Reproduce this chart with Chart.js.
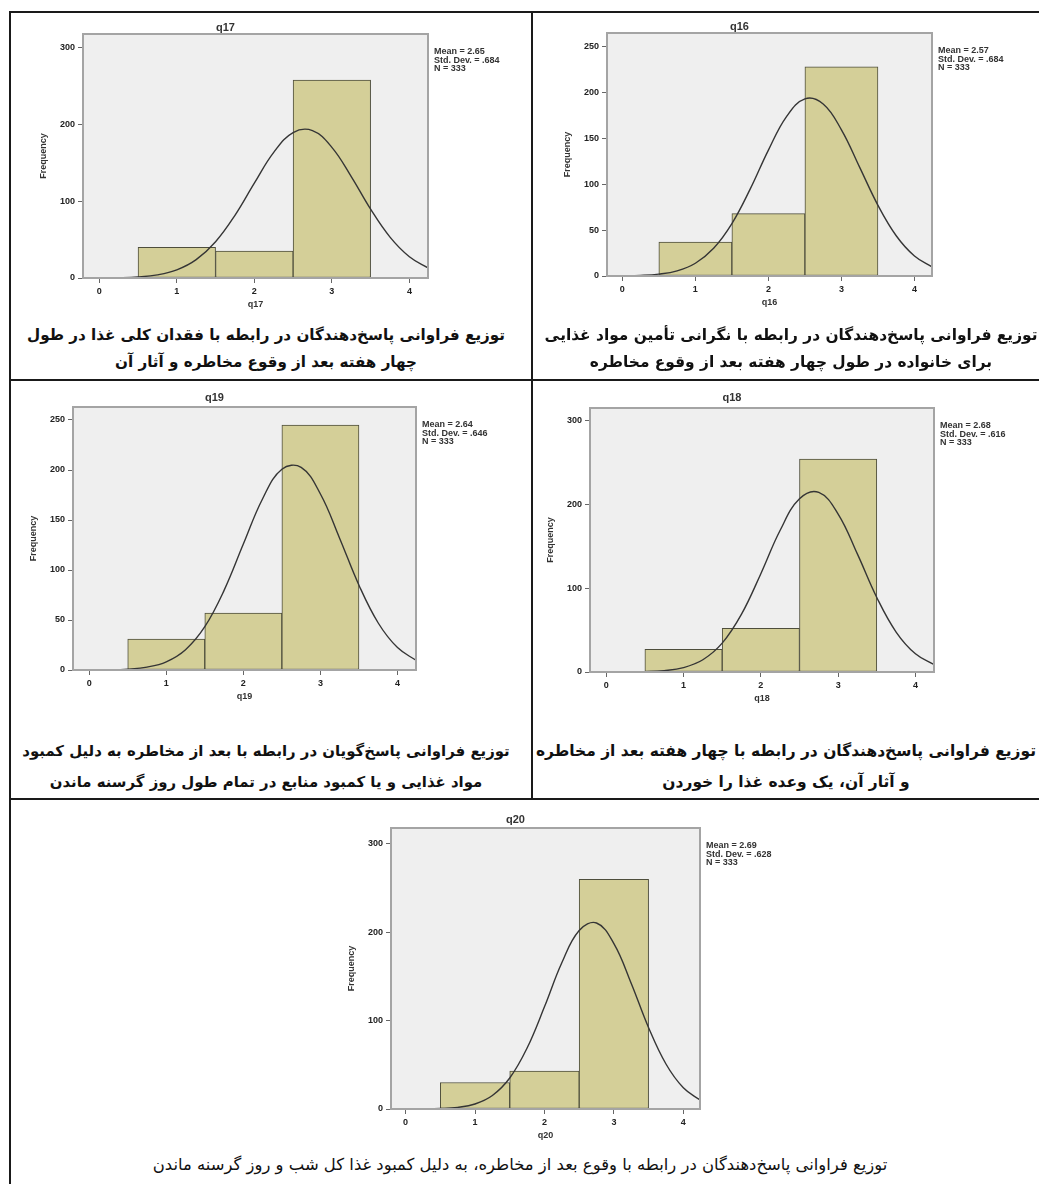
<!DOCTYPE html>
<html lang="fa">
<head>
<meta charset="utf-8">
<title>q16 - q20</title>
<script src="https://cdn.jsdelivr.net/npm/chart.js@4.4.1/dist/chart.umd.min.js"></script>
<style>
  html, body { margin: 0; padding: 0; background: #fff; overflow: hidden; }
  #page { position: relative; width: 1039px; height: 1184px; overflow: hidden; }
  .rule { position: absolute; background: #1a1a1a; }
  canvas { position: absolute; }
  .cap { position: absolute; white-space: nowrap; direction: rtl; font-family: "DejaVu Sans", sans-serif; color: #111; transform: translate(-50%, -50%); }
</style>
</head>
<body>
<div id="page"></div>
<script>
// bins of the histograms (1, 2, 3) and axis ticks
const binCenters = [1, 2, 3];
const xTicks = [0, 1, 2, 3, 4];
const ticksBy100 = [0, 100, 200, 300];
const ticksBy50 = [0, 50, 100, 150, 200, 250];

// frequencies
const q17Counts = [40, 35, 258];
const q16Counts = [37, 68, 228];
const q19Counts = [31, 57, 245];
const q18Counts = [27, 52, 254];
const q20Counts = [30, 43, 260];

// normal curve, read at every quarter step
const curveX = [-0.25, 0, 0.25, 0.5, 0.75, 1, 1.25, 1.5, 1.75, 2, 2.25, 2.5, 2.75, 3, 3.25, 3.5, 3.75, 4, 4.25];
const q17Curve = [0, 0.1, 0.4, 1.4, 4.1, 10.6, 23.9, 47.3, 81.7, 123.6, 163.7, 189.6, 192.1, 170.3, 132.2, 89.7, 53.3, 27.7, 12.6];
const q16Curve = [0, 0.2, 0.6, 2.0, 5.6, 13.9, 30.2, 57.1, 94.7, 137.3, 174.1, 193.2, 187.6, 159.4, 118.5, 77.1, 43.9, 21.8, 9.5];
const q19Curve = [0, 0.1, 0.2, 0.9, 2.9, 8.2, 20.3, 43.3, 79.6, 125.9, 171.3, 200.8, 202.6, 176.0, 131.6, 84.8, 47.0, 22.4, 9.2];
const q18Curve = [0, 0, 0.1, 0.4, 1.6, 5.2, 14.6, 34.4, 69.0, 117.3, 169.1, 206.7, 214.3, 188.5, 140.6, 88.9, 47.7, 21.7, 8.4];
const q20Curve = [0, 0, 0.1, 0.5, 1.8, 5.7, 15.3, 35.1, 69.0, 115.6, 165.5, 202.0, 210.5, 187.2, 142.1, 92.0, 50.9, 24.0, 9.7];

// SPSS legend text
const q17Stats = ['Mean = 2.65', 'Std. Dev. = .684', 'N = 333'];
const q16Stats = ['Mean = 2.57', 'Std. Dev. = .684', 'N = 333'];
const q19Stats = ['Mean = 2.64', 'Std. Dev. = .646', 'N = 333'];
const q18Stats = ['Mean = 2.68', 'Std. Dev. = .616', 'N = 333'];
const q20Stats = ['Mean = 2.69', 'Std. Dev. = .628', 'N = 333'];

// captions (each line as in the table)
const q17Caption = ['توزیع فراوانی پاسخ\u200cدهندگان در رابطه با فقدان کلی غذا در طول', 'چهار هفته بعد از وقوع مخاطره و آثار آن'];
const q16Caption = ['توزیع فراوانی پاسخ\u200cدهندگان در رابطه با نگرانی تأمین مواد غذایی', 'برای خانواده در طول چهار هفته بعد از وقوع مخاطره'];
const q19Caption = ['توزیع فراوانی پاسخ\u200cگویان در رابطه با بعد از مخاطره به دلیل کمبود', 'مواد غذایی و یا کمبود منابع در تمام طول روز گرسنه ماندن'];
const q18Caption = ['توزیع فراوانی پاسخ\u200cدهندگان در رابطه با چهار هفته بعد از مخاطره', 'و آثار آن، یک وعده غذا را خوردن'];
const q20Caption = ['توزیع فراوانی پاسخ\u200cدهندگان در رابطه با وقوع بعد از مخاطره، به دلیل کمبود غذا کل شب و روز گرسنه ماندن'];

const page = document.getElementById('page');

// table lines: left, top, width, height
const rules = [
  [10, 11, 1029, 2],
  [9, 11, 2, 1173],
  [10, 379, 1029, 2],
  [10, 798, 1029, 2],
  [531, 11, 2, 788]
];
rules.forEach(r => {
  const d = document.createElement('div');
  d.className = 'rule';
  d.style.left = r[0] + 'px'; d.style.top = r[1] + 'px';
  d.style.width = r[2] + 'px'; d.style.height = r[3] + 'px';
  page.appendChild(d);
});

// grey plot background, frame and the Mean/SD/N block
const spssFrame = {
  id: 'spssFrame',
  beforeDraw(chart) {
    const { ctx, chartArea: a } = chart;
    ctx.save();
    ctx.fillStyle = '#efefef';
    ctx.fillRect(a.left, a.top, a.width, a.height);
    ctx.restore();
  },
  afterDraw(chart, args, opts) {
    const { ctx, chartArea: a } = chart;
    ctx.save();
    ctx.strokeStyle = '#a4a4a4';
    ctx.lineWidth = 2;
    ctx.strokeRect(a.left, a.top, a.width, a.height);
    ctx.fillStyle = '#333';
    ctx.font = 'bold 9px "Liberation Sans"';
    ctx.textBaseline = 'middle';
    opts.lines.forEach((s, i) => ctx.fillText(s, a.right + 6, a.top + 18 + i * 8.5));
    ctx.restore();
  }
};

const tickFont = { family: 'Liberation Sans', size: 9, weight: 'bold' };
const padL = 60, padT = 22, padR = 134, padB = 38;

function drawPanel(p) {
  const [L, T, R, B] = p.box;
  const w = R - L + padL + padR, h = B - T + padT + padB;
  const cv = document.createElement('canvas');
  cv.width = w; cv.height = h;
  cv.style.left = (L - padL) + 'px'; cv.style.top = (T - padT) + 'px';
  cv.style.width = w + 'px'; cv.style.height = h + 'px';
  page.appendChild(cv);

  new Chart(cv.getContext('2d'), {
    type: 'bar',
    data: {
      datasets: [{
        type: 'line',
        data: curveX.map((x, i) => ({ x: x, y: p.curve[i] })),
        borderColor: '#353535',
        borderWidth: 1.4,
        pointRadius: 0,
        fill: false,
        tension: 0.4,
        order: 0
      }, {
        type: 'bar',
        data: binCenters.map((x, i) => ({ x: x, y: p.counts[i] })),
        backgroundColor: '#d4cf98',
        borderColor: '#4e4e3c',
        borderWidth: 1,
        borderSkipped: false,
        barPercentage: 1,
        categoryPercentage: 1,
        grouped: false,
        order: 1
      }]
    },
    options: {
      responsive: false,
      animation: false,
      layout: { padding: { left: 0, top: 0, right: padR, bottom: 0 } },
      plugins: {
        legend: { display: false },
        tooltip: { enabled: false },
        title: {
          display: true,
          text: p.name,
          color: '#333',
          font: { family: 'Liberation Sans', size: 11, weight: 'bold', lineHeight: 1 },
          padding: { top: 16.5 - p.titleGap, bottom: p.titleGap - 5.5 }
        },
        spssFrame: { lines: p.stats }
      },
      scales: {
        x: {
          type: 'linear',
          min: -0.21,
          max: 4.24,
          offset: false,
          afterBuildTicks: s => { s.ticks = xTicks.map(v => ({ value: v })); },
          afterFit: s => { s.height = padB; },
          border: { display: false },
          grid: { display: true, offset: false, drawOnChartArea: false, tickLength: 5, color: '#666' },
          ticks: { color: '#222', font: tickFont, padding: 3, maxRotation: 0 },
          title: { display: true, text: p.name, color: '#333', font: tickFont, padding: { top: 0, bottom: 5.6 } }
        },
        y: {
          min: 0,
          max: p.yMax,
          afterBuildTicks: s => { s.ticks = p.yTicks.map(v => ({ value: v })); },
          afterFit: s => { s.width = padL; },
          border: { display: false },
          grid: { display: true, drawOnChartArea: false, tickLength: 5, color: '#666' },
          ticks: { color: '#222', font: tickFont, padding: 3 },
          title: { display: true, text: 'Frequency', color: '#333', font: tickFont, padding: { top: 15.6, bottom: 0 } }
        }
      }
    },
    plugins: [spssFrame]
  });
}

// plot frame of each panel: left, top, right, bottom
const panels = [
  { name: 'q17', counts: q17Counts, curve: q17Curve, stats: q17Stats, yTicks: ticksBy100, yMax: 318, box: [83, 34, 428, 278], titleGap: 6 },
  { name: 'q16', counts: q16Counts, curve: q16Curve, stats: q16Stats, yTicks: ticksBy50, yMax: 265, box: [607, 33, 932, 276], titleGap: 6 },
  { name: 'q19', counts: q19Counts, curve: q19Curve, stats: q19Stats, yTicks: ticksBy50, yMax: 263, box: [73, 407, 416, 670], titleGap: 9 },
  { name: 'q18', counts: q18Counts, curve: q18Curve, stats: q18Stats, yTicks: ticksBy100, yMax: 315, box: [590, 408, 934, 672], titleGap: 10 },
  { name: 'q20', counts: q20Counts, curve: q20Curve, stats: q20Stats, yTicks: ticksBy100, yMax: 318, box: [391, 828, 700, 1109], titleGap: 8 }
];
panels.forEach(drawPanel);

// captions: first line is stretched to the given width
const meas = document.createElement('canvas').getContext('2d');
function addCaption(c) {
  meas.font = c.weight + ' 16px "DejaVu Sans"';
  const size = 16 * c.width / meas.measureText(c.lines[0]).width;
  c.lines.forEach((t, i) => {
    const d = document.createElement('div');
    d.className = 'cap';
    d.dir = 'rtl';
    d.textContent = t;
    d.style.left = c.cx + 'px';
    d.style.top = c.ys[i] + 'px';
    d.style.fontSize = size.toFixed(2) + 'px';
    d.style.fontWeight = c.weight;
    page.appendChild(d);
  });
}
[
  { lines: q17Caption, cx: 266, ys: [335, 362], width: 478, weight: 'bold' },
  { lines: q16Caption, cx: 791, ys: [335, 362], width: 493, weight: 'bold' },
  { lines: q19Caption, cx: 266, ys: [751, 782], width: 488, weight: 'bold' },
  { lines: q18Caption, cx: 786, ys: [751, 782], width: 500, weight: 'bold' },
  { lines: q20Caption, cx: 520, ys: [1164], width: 735, weight: 'normal' }
].forEach(addCaption);
</script>
</body>
</html>
